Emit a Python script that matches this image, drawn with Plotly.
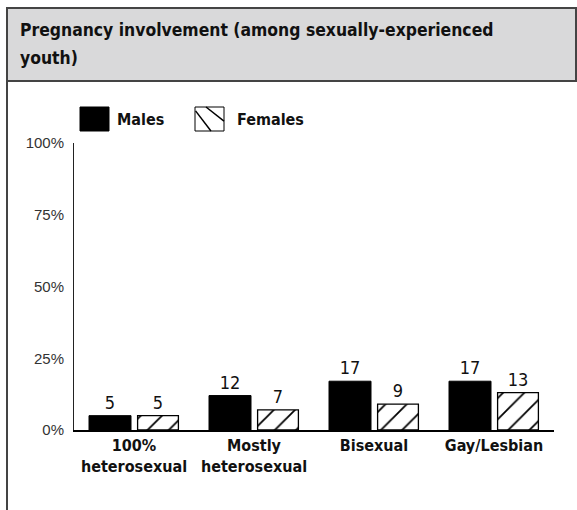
import plotly.graph_objects as go

categories = ["100%<br>heterosexual", "Mostly<br>heterosexual", "Bisexual", "Gay/Lesbian"]
males = [5, 12, 17, 17]
females = [5, 7, 9, 13]
y_ticks = [0, 25, 50, 75, 100]
y_tick_labels = ["0%", "25%", "50%", "75%", "100%"]
title_line1 = "Pregnancy involvement (among sexually-experienced"
title_line2 = "youth)"

W, H = 577, 510
L, R, T, B = 74, 23, 143, 80
PW, PH = W - L - R, H - T - B

def px(x):
    return (x - L) / PW

def py(y):
    return (H - B - y) / PH

NARROW = "DejaVu Sans Condensed"

fig = go.Figure()
fig.add_trace(go.Bar(
    x=categories, y=males, name="Males",
    marker=dict(color="black", line=dict(color="black", width=1)),
    width=0.35, offset=-0.375,
    text=males, textposition="outside",
    textfont=dict(family=NARROW, size=18, color="#111"),
    cliponaxis=False, showlegend=False,
))
fig.add_trace(go.Bar(
    x=categories, y=females, name="Females",
    marker=dict(color="white", line=dict(color="black", width=1.3),
                pattern=dict(shape="/", size=15, solidity=0.12, fgcolor="black",
                             bgcolor="white", fgopacity=1)),
    width=0.34, offset=0.03,
    text=females, textposition="outside",
    textfont=dict(family=NARROW, size=18, color="#111"),
    cliponaxis=False, showlegend=False,
))

shapes = []
shapes.append(dict(type="rect", xref="paper", yref="paper",
                   x0=px(7), x1=px(576), y0=py(8), y1=py(81),
                   fillcolor="#d9d9da", line=dict(color="#444", width=2), layer="below"))
shapes.append(dict(type="line", xref="paper", yref="paper",
                   x0=px(7), x1=px(7), y0=py(81), y1=py(512),
                   line=dict(color="#444", width=2)))
shapes.append(dict(type="rect", xref="paper", yref="paper",
                   x0=px(80), x1=px(109), y0=py(107), y1=py(131),
                   fillcolor="black", line=dict(color="black", width=1)))
fx0, fx1, fy0, fy1 = 195, 224, 107, 131
shapes.append(dict(type="rect", xref="paper", yref="paper",
                   x0=px(fx0), x1=px(fx1), y0=py(fy0), y1=py(fy1),
                   fillcolor="white", line=dict(color="black", width=1)))
for (a, b, c, d) in [(0.02, 0.16, 0.55, 1.0), (0.38, 0.0, 1.0, 0.59)]:
    shapes.append(dict(type="line", xref="paper", yref="paper",
                       x0=px(fx0 + a * (fx1 - fx0)), y0=py(fy0 + b * (fy1 - fy0)),
                       x1=px(fx0 + c * (fx1 - fx0)), y1=py(fy0 + d * (fy1 - fy0)),
                       line=dict(color="black", width=1.5)))

annotations = [
    dict(text="<b>" + title_line1 + "</b>", xref="paper", yref="paper",
         x=px(18), y=py(30), xanchor="left", yanchor="middle", showarrow=False,
         font=dict(family=NARROW, size=17.4, color="#111")),
    dict(text="<b>" + title_line2 + "</b>", xref="paper", yref="paper",
         x=px(18), y=py(58), xanchor="left", yanchor="middle", showarrow=False,
         font=dict(family=NARROW, size=17.4, color="#111")),
    dict(text="<b>Males</b>", xref="paper", yref="paper",
         x=px(115), y=py(119), xanchor="left", yanchor="middle", showarrow=False,
         font=dict(family=NARROW, size=16, color="#111")),
    dict(text="<b>Females</b>", xref="paper", yref="paper",
         x=px(235), y=py(119), xanchor="left", yanchor="middle", showarrow=False,
         font=dict(family=NARROW, size=16, color="#111")),
]

fig.update_layout(
    width=W, height=H,
    margin=dict(l=L, r=R, t=T, b=B),
    paper_bgcolor="white", plot_bgcolor="white",
    barmode="group",
    shapes=shapes, annotations=annotations,
    xaxis=dict(showgrid=False, showline=True, linecolor="black", linewidth=2,
               ticks="", tickfont=dict(family=NARROW, size=16, color="#111"),
               tickprefix="<b>", ticksuffix="</b>"),
    yaxis=dict(range=[0, 100], tickvals=y_ticks, ticktext=y_tick_labels,
               showgrid=False, zeroline=False, showline=True, linecolor="#222", linewidth=1,
               ticks="", ticklabelstandoff=6,
               tickfont=dict(family="Liberation Sans", size=15, color="#333")),
    showlegend=False,
)

fig.write_html("out.html", config={"displayModeBar": False},
               post_script="document.body.style.margin='0';")
